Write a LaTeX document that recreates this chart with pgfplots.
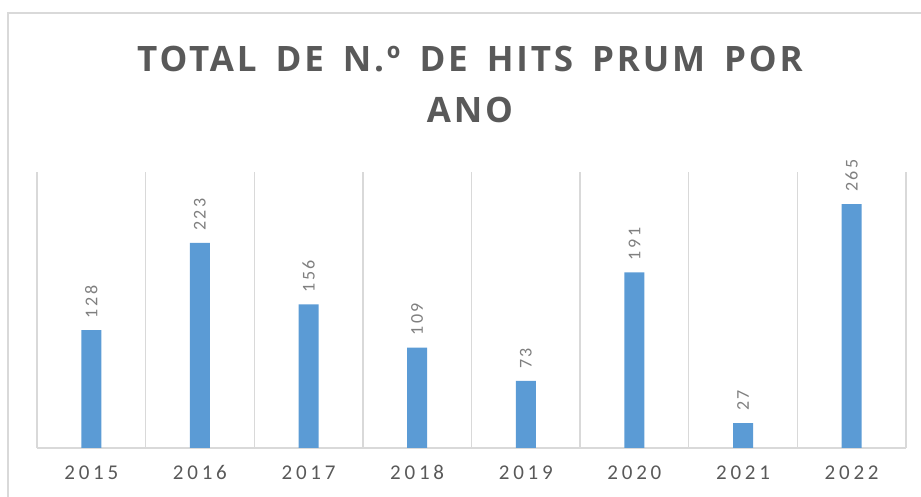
\documentclass[border=0pt]{standalone}
\usepackage{fontspec}
\usepackage{pgfplots}
\pgfplotsset{compat=1.18}
\setmainfont{Carlito}
\newfontfamily\titlefont[LetterSpace=8,WordSpace=1.6]{Open Sans Bold}
\newfontfamily\tickfont[LetterSpace=18]{Carlito}
\newfontfamily\valfont[LetterSpace=14]{Carlito}
\definecolor{barblue}{HTML}{5B9BD5}
\definecolor{gridgray}{HTML}{D9D9D9}
\definecolor{txtgray}{HTML}{595959}
\definecolor{valgray}{HTML}{7F7F7F}
\begin{document}
\begin{tikzpicture}[x=1pt,y=1pt]
\path[use as bounding box] (0,0) rectangle (921,497);
\draw[gridgray, line width=1.5pt] (8,-5) -- (8,484) -- (930,484);
\node[anchor=base, text=txtgray, font=\titlefont\fontsize{35}{38}\selectfont] at (470,425) {TOTAL DE N.º DE HITS PRUM POR};
\node[anchor=base, text=txtgray, font=\titlefont\fontsize{35}{38}\selectfont] at (470,374) {ANO};
\begin{axis}[
  at={(37pt,49pt)}, anchor=south west,
  scale only axis, width=869pt, height=276pt,
  xmin=-0.5, xmax=7.5, ymin=0, ymax=300,
  ybar, bar width=20pt,
  xtick={0,...,7},
  xticklabels={2015,2016,2017,2018,2019,2020,2021,2022},
  minor xtick={-0.5,0.5,...,7.5},
  xminorgrids,
  minor grid style={draw=gridgray, line width=1.3pt},
  major tick length=0pt, minor tick length=0pt,
  ytick=\empty,
  axis y line=none,
  axis x line*=bottom,
  x axis line style={draw=gridgray, line width=1.8pt, -},
  xticklabel style={font=\tickfont\fontsize{21}{24}\selectfont, text=txtgray, anchor=base, yshift=-32pt},
  nodes near coords={\pgfmathprintnumber[assume math mode=true]{\pgfplotspointmeta}},
  every node near coord/.append style={rotate=90, anchor=west, font=\valfont\fontsize{18}{20}\selectfont, text=valgray, inner xsep=12pt, inner ysep=0pt},
  clip=false,
]
\addplot[fill=barblue, draw=none] coordinates {(0,128) (1,223) (2,156) (3,109) (4,73) (5,191) (6,27) (7,265)};
\end{axis}
\end{tikzpicture}
\end{document}
